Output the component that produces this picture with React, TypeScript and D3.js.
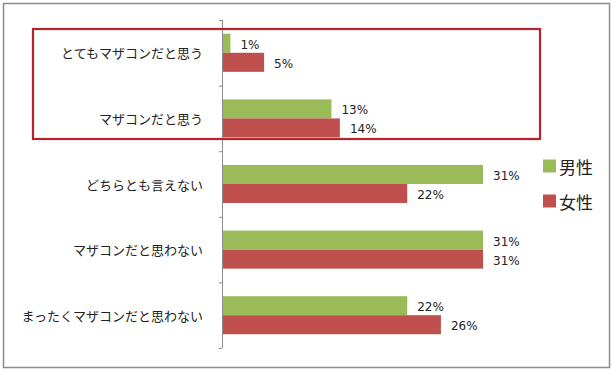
import React, { useRef, useEffect } from 'react';
import * as d3 from 'd3';

const categories = [
  'とてもマザコンだと思う',
  'マザコンだと思う',
  'どちらとも言えない',
  'マザコンだと思わない',
  'まったくマザコンだと思わない',
];
const seriesNames = ['男性', '女性'];
const maleValues = [1, 13, 31, 31, 22];
const femaleValues = [5, 14, 22, 31, 26];
const seriesColors = ['#9bbb59', '#c0504d'];

const W = 613;
const H = 370;
const FONT = '"Noto Sans CJK JP", "Noto Sans", sans-serif';
const NUM_FONT = '"DejaVu Sans", Verdana, sans-serif';

export default function App() {
  const svgRef = useRef<SVGSVGElement | null>(null);

  useEffect(() => {
    if (!svgRef.current) return;
    const svg = d3.select(svgRef.current);
    svg.selectAll('*').remove();

    const axisX = 222;
    const top = 20;
    const bottom = 348;

    const x = d3.scaleLinear().domain([0, 35]).range([axisX, axisX + 35 * 8.42]);
    const y = d3.scaleBand<string>()
      .domain(categories)
      .range([top, bottom])
      .paddingInner(0.42)
      .paddingOuter(0.21);
    const inner = d3.scaleBand<string>()
      .domain(seriesNames)
      .range([0, y.bandwidth()]);

    // chart frame
    svg.append('rect')
      .attr('x', 3.5).attr('y', 3.5)
      .attr('width', 606).attr('height', 364)
      .attr('fill', '#fff')
      .attr('stroke', '#8c8c8c')
      .attr('stroke-width', 1.5);

    const data = categories.map((c, i) => ({ cat: c, values: [maleValues[i], femaleValues[i]] }));

    const groups = svg.append('g').selectAll('g')
      .data(data)
      .enter().append('g')
      .attr('transform', d => `translate(0,${y(d.cat)})`);

    groups.selectAll('rect')
      .data(d => d.values.map((v, k) => ({ v, k })))
      .enter().append('rect')
      .attr('x', x(0))
      .attr('y', d => inner(seriesNames[d.k])!)
      .attr('width', d => x(d.v) - x(0))
      .attr('height', inner.bandwidth())
      .attr('fill', d => seriesColors[d.k]);

    groups.selectAll('text.val')
      .data(d => d.values.map((v, k) => ({ v, k })))
      .enter().append('text')
      .attr('class', 'val')
      .attr('x', d => x(d.v) + 10)
      .attr('y', d => inner(seriesNames[d.k])! + inner.bandwidth() / 2 + 1.5)
      .attr('dominant-baseline', 'central')
      .attr('font-family', NUM_FONT)
      .attr('font-size', 12)
      .attr('fill', '#222')
      .text(d => `${d.v}%`);

    // category labels
    svg.append('g').selectAll('text')
      .data(categories)
      .enter().append('text')
      .attr('x', 203)
      .attr('y', d => y(d)! + y.bandwidth() / 2)
      .attr('text-anchor', 'end')
      .attr('dominant-baseline', 'central')
      .attr('font-family', FONT)
      .attr('font-size', 13)
      .attr('fill', '#222')
      .text(d => d);

    // axis line and ticks between categories
    svg.append('line')
      .attr('x1', axisX + 0.5).attr('x2', axisX + 0.5)
      .attr('y1', top).attr('y2', bottom)
      .attr('stroke', '#8c8c8c');
    svg.append('g').selectAll('line')
      .data(d3.range(categories.length + 1))
      .enter().append('line')
      .attr('x1', axisX - 3).attr('x2', axisX)
      .attr('y1', i => top + i * y.step() + 0.5)
      .attr('y2', i => top + i * y.step() + 0.5)
      .attr('stroke', '#8c8c8c');

    // legend
    const legend = svg.append('g').selectAll('g')
      .data(seriesNames)
      .enter().append('g')
      .attr('transform', (_d, i) => `translate(543,${166 + i * 35})`);
    legend.append('rect')
      .attr('x', 0).attr('y', -6.5)
      .attr('width', 13).attr('height', 13)
      .attr('fill', (_d, i) => seriesColors[i]);
    legend.append('text')
      .attr('x', 16).attr('y', 0)
      .attr('dominant-baseline', 'central')
      .attr('font-family', FONT)
      .attr('font-size', 17)
      .attr('fill', '#222')
      .text(d => d);

    // highlight box around the first two categories
    svg.append('rect')
      .attr('x', 33).attr('y', 29)
      .attr('width', 507).attr('height', 110)
      .attr('fill', 'none')
      .attr('stroke', '#b8242a')
      .attr('stroke-width', 2.2);
  }, []);

  return (
    <svg
      ref={svgRef}
      width={W}
      height={H}
      viewBox={`0 0 ${W} ${H}`}
      style={{ position: 'absolute', left: 0, top: 0, background: '#fff' }}
    />
  );
}
